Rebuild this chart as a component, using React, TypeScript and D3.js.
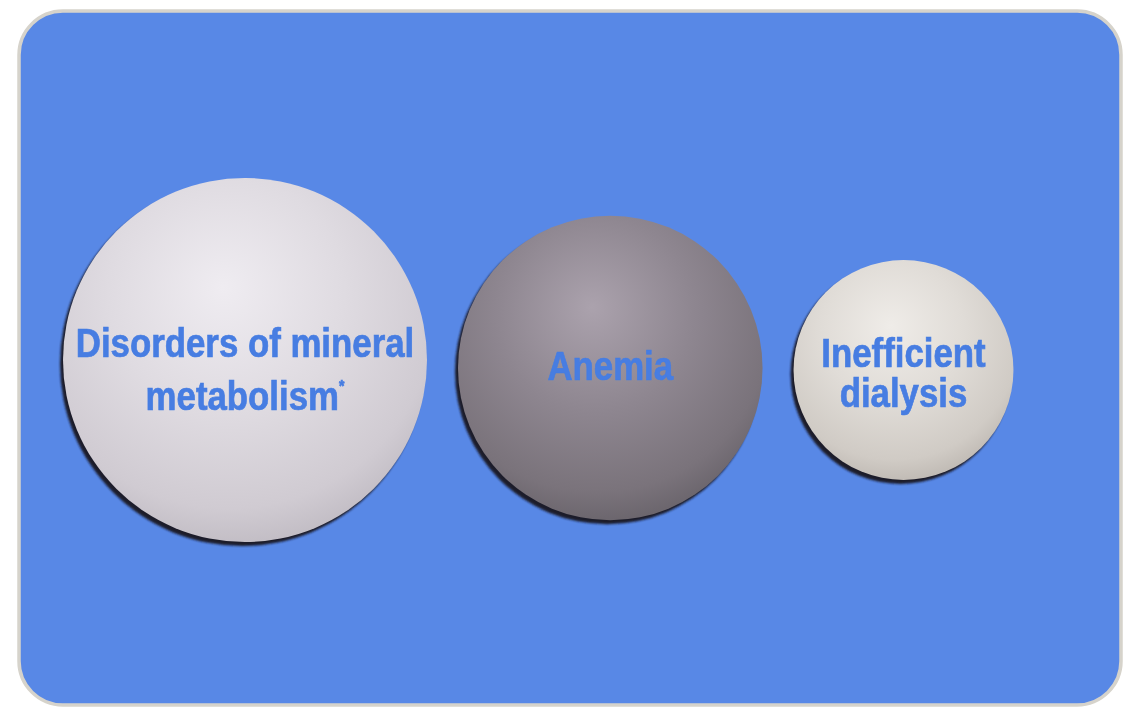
import React from "react";
import * as d3 from "d3";

// Contributing factors, drawn as spheres sized by relative weight
const factorLabels: string[][] = [
  ["Disorders of mineral", "metabolism*"],
  ["Anemia"],
  ["Inefficient", "dialysis"],
];
const factorWeights: number[] = [100, 70, 36.5];
const factorTones: string[] = ["light", "dark", "warm"];

const W = 1129;
const H = 710;

const palette: Record<string, string[]> = {
  light: ["#efecf1", "#dfdbe1", "#d0cbd2", "#bbb6be"],
  dark: ["#aba2ad", "#8e8690", "#7a737b", "#635e65"],
  warm: ["#efece8", "#e0dcd7", "#d0cbc5", "#b8b2ac"],
};

export default function App() {
  const r = d3.scaleSqrt().domain([0, 100]).range([0, 182]);
  const radii = factorWeights.map((v) => r(v));

  // pack spheres left to right with a fixed gap
  const startX = 63;
  const gap = 31;
  const cy = [360, 368, 370];
  const centers: number[] = [];
  let x = startX;
  radii.forEach((rad) => {
    centers.push(x + rad);
    x += 2 * rad + gap;
  });

  const lineGap = [53, 0, 40];
  const textDrop = [23.5, 11.5, 17];

  return (
    <div style={{ position: "fixed", left: 0, top: 0, width: W, height: H, background: "#ffffff" }}>
      <svg width={W} height={H} style={{ display: "block" }}>
        <defs>
          {factorTones.map((t, i) => (
            <radialGradient key={t} id={`g-${i}`} cx="0.46" cy="0.34" r="0.72" fx="0.44" fy="0.3">
              <stop offset="0%" stopColor={palette[t][0]} />
              <stop offset="45%" stopColor={palette[t][1]} />
              <stop offset="80%" stopColor={palette[t][2]} />
              <stop offset="100%" stopColor={palette[t][3]} />
            </radialGradient>
          ))}
          <filter id="soft" x="-10%" y="-10%" width="120%" height="120%">
            <feGaussianBlur stdDeviation="0.8" />
          </filter>
          <filter id="textsoft" x="-10%" y="-20%" width="120%" height="140%">
            <feGaussianBlur stdDeviation="0.5" />
          </filter>
        </defs>

        <rect x={19} y={11} width={1102} height={694} rx={44} ry={44}
          fill="#5888e6" stroke="#d6d3cb" strokeWidth={3.5} />

        {factorLabels.map((lines, i) => {
          const cx = centers[i];
          const rad = radii[i];
          const y0 = cy[i];
          const n = lines.length;
          return (
            <g key={i}>
              <circle cx={cx - 3} cy={y0 + 4} r={rad} fill="#1c1d2b" filter="url(#soft)" />
              <circle cx={cx} cy={y0} r={rad} fill={`url(#g-${i})`} />
              <g filter="url(#textsoft)">
                {lines.map((ln, j) => {
                  const baseline = y0 + textDrop[i] + (j - (n - 1) / 2) * lineGap[i];
                  return (
                    <text
                      key={j}
                      x={0}
                      y={0}
                      transform={`translate(${cx},${baseline}) scale(0.87,1)`}
                      textAnchor="middle"
                      fontFamily="'Liberation Sans', Arial, sans-serif"
                      fontWeight="bold"
                      fontSize={40}
                      fill="#467de2"
                      stroke="#467de2"
                      strokeWidth={0.7}
                    >
                      {ln.endsWith("*") ? (
                        <>
                          {ln.slice(0, -1)}
                          <tspan fontSize={16} dy={-18}>*</tspan>
                        </>
                      ) : (
                        ln
                      )}
                    </text>
                  );
                })}
              </g>
            </g>
          );
        })}
      </svg>
    </div>
  );
}
